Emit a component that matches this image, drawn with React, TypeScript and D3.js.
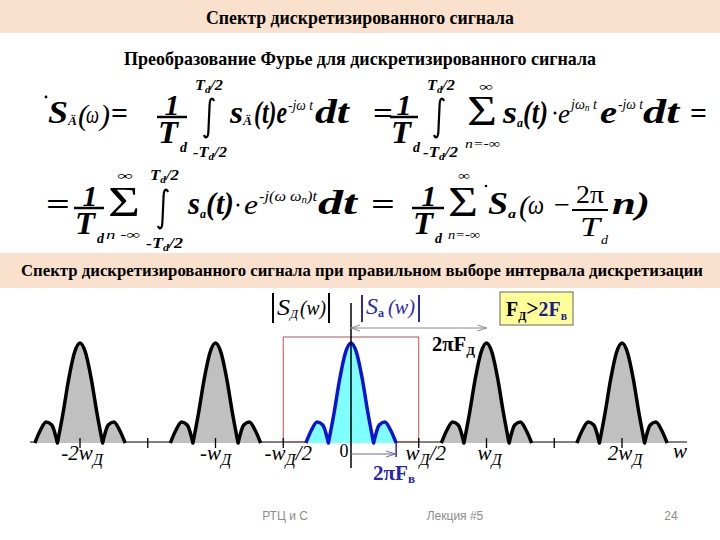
import React from 'react';
import * as d3 from 'd3';

const W = 720;
const H = 540;

// ---- chart data ----
const replicaCenters = [-2, -1, 1, 2]; // spectrum copies, in units of wД
const baseCenters = [0]; // original spectrum |Sa(w)|
const bandEdge = 1 / 3; // 2πFв expressed in units of wД
// lobe shape: offsets in units of bandEdge, normalized magnitude
const lobeOffsets = [-1, -0.875, -0.75, -0.625, -0.5, -0.375, -0.25, -0.125, 0, 0.125, 0.25, 0.375, 0.5, 0.625, 0.75, 0.875, 1];
const lobeLevels = [0, 0.13, 0.21, 0.18, 0, 0.3, 0.64, 0.9, 1, 0.9, 0.64, 0.3, 0, 0.18, 0.21, 0.13, 0];
const tickValues = [-2, -1.5, -1, -0.5, 0.5, 1, 1.5, 2];
const tickLabelValues = [-2, -1, -0.5, 0.5, 1, 2];
const tickLabelMain = ['-2w', '-w', '-w', 'w', 'w', '2w'];
const tickLabelSub = ['Д', 'Д', 'Д', 'Д', 'Д', 'Д'];
const tickLabelTail = ['', '', '/2', '/2', '', ''];
const filterHalfWidth = 0.5; // ±wД/2
const filterLevel = 1.06;
const axisDomain = [-2.37, 2.48];

const titleText = 'Спектр дискретизированного сигнала';
const subtitleText = 'Преобразование Фурье для дискретизированного сигнала';
const bandText = 'Спектр дискретизированного сигнала при правильном выборе интервала дискретизации';
const footerLeft = 'РТЦ  и С';
const footerMid = 'Лекция #5';
const footerRight = '24';

const SERIF = '"Liberation Serif", "Times New Roman", serif';
const SANS = '"Liberation Sans", Arial, sans-serif';

const x = d3.scaleLinear().domain([0, 1]).range([351, 486.5]);
const y = d3.scaleLinear().domain([0, 1]).range([443, 343]);

function lobeSegments(center: number) {
  const pts: [number, number][] = lobeOffsets.map((o, i) => [center + o * bandEdge, lobeLevels[i]]);
  const zeroIdx = pts.map((p, i) => (p[1] === 0 ? i : -1)).filter((i) => i >= 0);
  const segs: [number, number][][] = [];
  for (let k = 0; k < zeroIdx.length - 1; k++) segs.push(pts.slice(zeroIdx[k], zeroIdx[k + 1] + 1));
  const line = d3
    .line<[number, number]>()
    .x((d) => x(d[0]))
    .y((d) => y(d[1]))
    .curve(d3.curveMonotoneX);
  return segs.map((s, i) => {
    const p = line(s) || '';
    return i === 0 ? p : p.replace(/^M/, 'L');
  }).join('');
}

type TP = {
  x: number;
  y: number;
  w?: number;
  s: number;
  b?: boolean;
  i?: boolean;
  fill?: string;
  anchor?: string;
  family?: string;
  children: React.ReactNode;
};
const T = ({ x, y, w, s, b, i, fill, anchor, family, children }: TP) => (
  <text
    x={x}
    y={y}
    fontSize={s}
    fontWeight={b ? 'bold' : 'normal'}
    fontStyle={i ? 'italic' : 'normal'}
    fontFamily={family || SERIF}
    fill={fill || '#000'}
    textAnchor={anchor || 'start'}
    {...(w ? { textLength: w, lengthAdjust: 'spacingAndGlyphs' } : {})}
  >
    {children}
  </text>
);

const Integral = ({ cx, top, bottom }: { cx: number; top: number; bottom: number }) => (
  <path
    d={`M${cx + 5},${top + 3} C${cx + 3.5},${top - 1} ${cx + 0.8},${top} ${cx + 0.6},${top + 7} L${cx - 0.6},${bottom - 7} C${cx - 0.8},${bottom} ${cx - 3.5},${bottom + 1} ${cx - 5},${bottom - 3}`}
    fill="none"
    stroke="#000"
    strokeWidth={2.2}
  />
);

const Limit = ({ x, y, w, minus }: { x: number; y: number; w: number; minus?: boolean }) => (
  <text x={x} y={y} fontSize={15} fontStyle="italic" fontWeight="bold" fontFamily={SERIF} textLength={w} lengthAdjust="spacingAndGlyphs">
    {minus ? '-T' : 'T'}
    <tspan fontSize={10} dy={3}>d</tspan>
    <tspan fontSize={15} dy={-3}>/2</tspan>
  </text>
);

const Frac1 = ({ x0, x1, bar, dx }: { x0: number; x1: number; bar: number; dx: number }) => (
  <g>
    <T x={(x0 + x1) / 2 + dx} y={bar - 2} s={30} b i anchor="middle">1</T>
    <line x1={x0} x2={x1} y1={bar} y2={bar} stroke="#000" strokeWidth={2.5} />
    <T x={x0 + 1} y={bar + 26} w={20} s={32} b i>T</T>
    <T x={x0 + 23} y={bar + 35} w={7} s={15} b i>d</T>
  </g>
);

const Arrow = ({ x1, x2, yy, color, both }: { x1: number; x2: number; yy: number; color: string; both?: boolean }) => (
  <g stroke={color} fill="none" strokeWidth={1}>
    <line x1={x1} x2={x2} y1={yy} y2={yy} />
    <path d={`M${x2 - 9},${yy - 3} L${x2},${yy} L${x2 - 9},${yy + 3}`} />
    {both && <path d={`M${x1 + 9},${yy - 3} L${x1},${yy} L${x1 + 9},${yy + 3}`} />}
  </g>
);

export default function App() {
  const axisY = y(0) - 1;
  return (
    <svg width={W} height={H} style={{ position: 'absolute', left: 0, top: 0, background: '#fff' }}>
      {/* header bands */}
      <rect x={0} y={0} width={W} height={33} fill="#f9e1ce" />
      <T x={360} y={24} s={19} b anchor="middle" w={308}>{titleText}</T>
      <T x={360} y={65} s={19} b anchor="middle" w={472}>{subtitleText}</T>
      <rect x={0} y={253} width={W} height={35} fill="#f9e1ce" />
      <T x={362} y={276} s={17} b anchor="middle" w={682}>{bandText}</T>

      {/* formula line 1 */}
      <g>
        <circle cx={46} cy={97} r={1.4} fill="#000" />
        <T x={48} y={123} w={20} s={32} b i>S</T>
        <T x={68} y={125} w={9} s={13} b i>Ä</T>
        <T x={78} y={125} s={30} i>(</T>
        <T x={86} y={123} w={13} s={26} i>ω</T>
        <T x={100} y={125} s={30} i>)</T>
        <T x={111} y={123} w={17} s={30} b>=</T>
        <Frac1 x0={157} x1={187} bar={117} dx={0} />
        <Limit x={195} y={90} w={28} />
        <Integral cx={209} top={98} bottom={138} />
        <Limit x={193} y={157} w={34} minus />
        <T x={230} y={123} w={13} s={32} b i>s</T>
        <T x={243} y={125} w={9} s={13} b i>Ä</T>
        <T x={254} y={123} w={33} s={32} b i>(t)e</T>
        <T x={288} y={110} w={25} s={15} i>-jω t</T>
        <T x={315} y={123} w={34} s={34} b i>dt</T>
        <T x={373} y={123} w={20} s={30} b>=</T>
        <Frac1 x0={390} x1={418} bar={117} dx={0} />
        <Limit x={427} y={90} w={28} />
        <Integral cx={439} top={98} bottom={138} />
        <Limit x={423} y={157} w={35} minus />
        <T x={479} y={91} w={14} s={13}>∞</T>
        <T x={467} y={125} w={30} s={42}>Σ</T>
        <T x={465} y={148} w={35} s={13} i>n=-∞</T>
        <T x={503} y={123} w={14} s={32} b i>s</T>
        <T x={517} y={127} w={6} s={12} b i>a</T>
        <T x={523} y={123} w={25} s={32} b i>(t)</T>
        <circle cx={555} cy={113} r={1.5} fill="#000" />
        <T x={558} y={123} w={12} s={28} i>e</T>
        <text x={571} y={109} fontSize={15} fontStyle="italic" fontFamily={SERIF} textLength={26} lengthAdjust="spacingAndGlyphs">
          jω<tspan fontSize={10} dy={2}>n</tspan><tspan fontSize={15} dy={-2}> t</tspan>
        </text>
        <T x={600} y={123} w={17} s={32} b i>e</T>
        <T x={618} y={109} w={25} s={15} i>-jω t</T>
        <T x={643} y={123} w={36} s={34} b i>dt</T>
        <T x={690} y={123} w={17} s={30} b>=</T>
      </g>

      {/* formula line 2 */}
      <g>
        <T x={46} y={214} w={24} s={30} b>=</T>
        <Frac1 x0={74} x1={104} bar={208} dx={1} />
        <T x={117} y={180} w={16} s={13}>∞</T>
        <T x={108} y={216} w={32} s={42}>Σ</T>
        <T x={106} y={239} w={34} s={13} i>n  -∞</T>
        <Limit x={150} y={180} w={29} />
        <Integral cx={163} top={189} bottom={229} />
        <Limit x={146} y={248} w={37} minus />
        <T x={188} y={214} w={12} s={32} b i>s</T>
        <T x={200} y={218} w={6} s={12} b i>a</T>
        <T x={206} y={214} w={28} s={32} b i>(t)</T>
        <circle cx={238} cy={205} r={1.5} fill="#000" />
        <T x={244} y={214} w={14} s={28} i>e</T>
        <text x={259} y={201} fontSize={15} fontStyle="italic" fontFamily={SERIF} textLength={58} lengthAdjust="spacingAndGlyphs">
          -j(ω   ω<tspan fontSize={10} dy={2}>n</tspan><tspan fontSize={15} dy={-2}>)t</tspan>
        </text>
        <T x={318} y={214} w={39} s={34} b i>dt</T>
        <T x={371} y={214} w={24} s={30} b>=</T>
        <Frac1 x0={412} x1={444} bar={208} dx={1} />
        <T x={458} y={180} w={12} s={13}>∞</T>
        <T x={448} y={216} w={30} s={42}>Σ</T>
        <T x={448} y={239} w={32} s={13} i>n=-∞</T>
        <circle cx={486} cy={186} r={1.3} fill="#000" />
        <T x={488} y={214} w={20} s={32} b i>S</T>
        <T x={508} y={218} w={8} s={13} b i>a</T>
        <T x={519} y={216} s={30} i>(</T>
        <T x={528} y={214} w={16} s={28} i>ω</T>
        <T x={554} y={214} w={16} s={28}>−</T>
        <T x={576} y={203} w={28} s={26}>2π</T>
        <line x1={572} x2={608} y1={210} y2={210} stroke="#000" strokeWidth={2} />
        <T x={580} y={236} w={20} s={28} i>T</T>
        <T x={601} y={244} w={7} s={13} i>d</T>
        <T x={612} y={214} w={38} s={32} b i>n)</T>
      </g>

      {/* chart: axis */}
      <line x1={x(axisDomain[0])} x2={x(axisDomain[1])} y1={axisY} y2={axisY} stroke="#808080" strokeWidth={2} />
      {/* ideal filter window */}
      <rect
        x={x(-filterHalfWidth)}
        y={y(filterLevel)}
        width={x(filterHalfWidth) - x(-filterHalfWidth)}
        height={axisY - y(filterLevel)}
        fill="none"
        stroke="#b85050"
        strokeWidth={1}
      />
      {/* lobes */}
      {replicaCenters.map((c) => {
        const p = lobeSegments(c);
        return (
          <g key={'r' + c}>
            <path d={p + 'Z'} fill="#c0c0c0" />
            <path d={p} fill="none" stroke="#000" strokeWidth={3.5} strokeLinejoin="round" />
          </g>
        );
      })}
      {baseCenters.map((c) => {
        const p = lobeSegments(c);
        return (
          <g key={'b' + c}>
            <path d={p + 'Z'} fill="#80ffff" />
            <path d={p} fill="none" stroke="#0a14d2" strokeWidth={3.5} strokeLinejoin="round" />
          </g>
        );
      })}
      {/* ticks */}
      {tickValues.map((v) => (
        <line key={'t' + v} x1={x(v)} x2={x(v)} y1={axisY - 4} y2={axisY + 6} stroke="#000" strokeWidth={1.3} />
      ))}
      {/* vertical axis */}
      <line x1={x(0)} x2={x(0)} y1={303} y2={468} stroke="#000" strokeWidth={1.5} />
      {/* 2πFД arrow */}
      <Arrow x1={x(0)} x2={x(1)} yy={y(1.15)} color="#8a8a8a" both />
      <text x={432} y={351} fontSize={21} fontWeight="bold" fontFamily={SERIF} textLength={43} lengthAdjust="spacingAndGlyphs">
        2πF<tspan fontSize={13} dy={4}>Д</tspan>
      </text>
      {/* 2πFв arrow */}
      <line x1={x(bandEdge)} x2={x(bandEdge)} y1={axisY} y2={axisY + 15} stroke="#2a2aa0" strokeWidth={1.5} />
      <Arrow x1={x(0)} x2={x(bandEdge) - 1} yy={axisY + 12} color="#6a6ab0" />
      <text x={373} y={480} fontSize={21} fontWeight="bold" fontFamily={SERIF} fill="#2525b0" textLength={42} lengthAdjust="spacingAndGlyphs">
        2πF<tspan fontSize={13} dy={3}>в</tspan>
      </text>

      {/* tick labels */}
      {tickLabelValues.map((v, i) => (
        <text key={'l' + v} x={x(v) + (v === -2 ? 2 : v === -0.5 ? 5 : v === 0.5 ? 7 : v === 2 ? 3 : v === 1 ? 3 : 0)} y={460} fontSize={21} fontStyle="italic" fontFamily={SERIF} textAnchor="middle">
          {tickLabelMain[i]}
          <tspan fontSize={16} dy={5}>{tickLabelSub[i]}</tspan>
          {tickLabelTail[i] && <tspan fontSize={21} dy={-5}>{tickLabelTail[i]}</tspan>}
        </text>
      ))}
      <T x={344} y={457} s={18} anchor="middle">0</T>
      <T x={680} y={458} s={21} i anchor="middle">w</T>

      {/* |SД(w)| label */}
      <g>
        <line x1={273} x2={273} y1={293} y2={323} stroke="#000" strokeWidth={2} />
        <line x1={329} x2={329} y1={293} y2={323} stroke="#000" strokeWidth={2} />
        <T x={277} y={315} w={13} s={24} i>S</T>
        <T x={290} y={318} w={8} s={13} i>Д</T>
        <T x={300} y={315} w={26} s={22} i>(w)</T>
      </g>
      <g>
        <line x1={362} x2={362} y1={295} y2={322} stroke="#2a2aa8" strokeWidth={2} />
        <line x1={419} x2={419} y1={295} y2={322} stroke="#2a2aa8" strokeWidth={2} />
        <T x={366} y={314} w={12} s={24} i fill="#2a2aa8">S</T>
        <T x={378} y={317} w={6} s={13} b fill="#2a2aa8">a</T>
        <T x={388} y={314} w={27} s={22} i fill="#2a2aa8">(w)</T>
      </g>

      {/* FД > 2Fв box */}
      <rect x={500} y={292} width={73} height={33} fill="#ffff99" stroke="#666" strokeWidth={1} />
      <text x={506} y={316} fontSize={22} fontWeight="bold" fontFamily={SERIF} textLength={61} lengthAdjust="spacingAndGlyphs">
        F<tspan fontSize={13} dy={4}>Д</tspan>
        <tspan fontSize={24} dy={-4}>&gt;</tspan>
        <tspan fill="#1c1c90">2F</tspan>
        <tspan fontSize={13} dy={4} fill="#1c1c90">в</tspan>
      </text>

      {/* footer */}
      <T x={285} y={520} s={12} fill="#8c8c8c" family={SANS} anchor="middle">{footerLeft}</T>
      <T x={455} y={520} s={12} fill="#8c8c8c" family={SANS} anchor="middle">{footerMid}</T>
      <T x={671} y={520} s={12} fill="#8c8c8c" family={SANS} anchor="middle">{footerRight}</T>
    </svg>
  );
}
